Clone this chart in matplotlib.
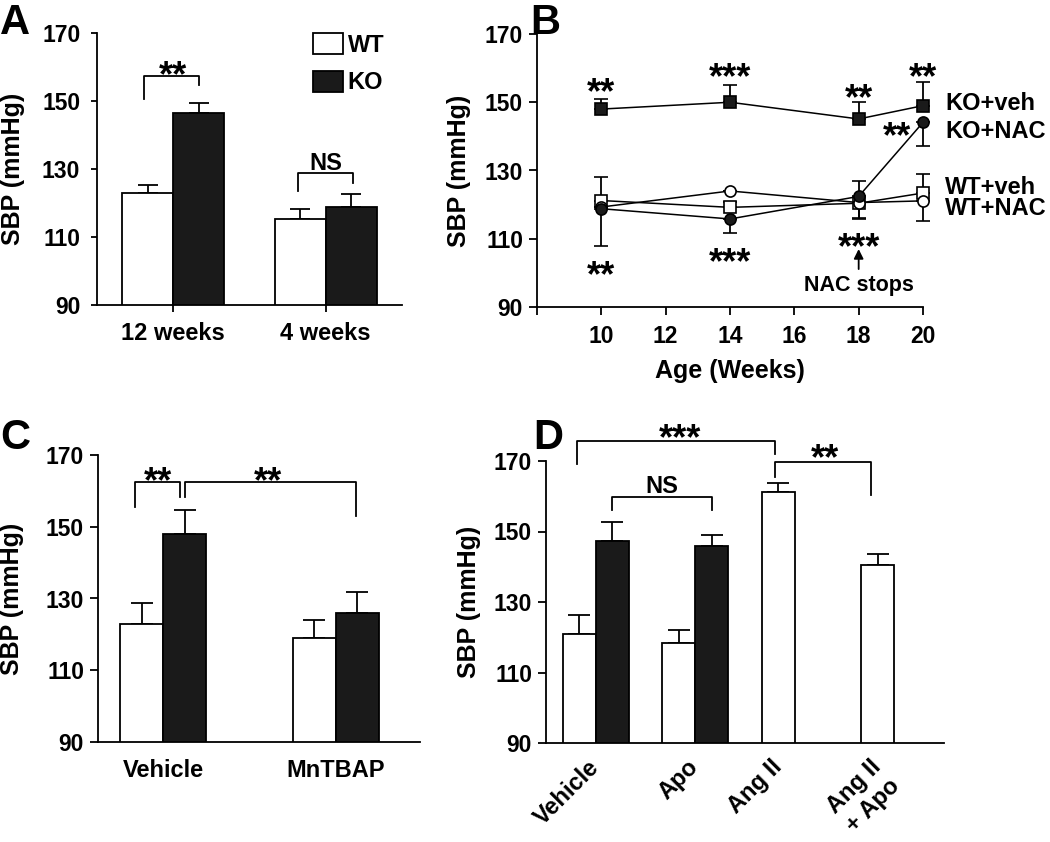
import matplotlib
matplotlib.use("Agg")
import matplotlib.pyplot as plt

plt.rcParams['font.family'] = ['Liberation Sans', 'DejaVu Sans']
plt.rcParams['font.weight'] = 'bold'
plt.rcParams['axes.labelweight'] = 'bold'

W, H = 1050, 842

# ---- dane ----
# panel A
a_groups = ['12 weeks', '4 weeks']
a_wt = [122.8, 115.3]
a_wt_err = [2.5, 2.8]
a_ko = [146.5, 118.7]
a_ko_err = [2.9, 3.8]

# panel B
b_weeks = [10, 14, 18, 20]
b_ko_veh = [148.0, 150.0, 145.1, 149.0]
b_ko_veh_up = [3.0, 5.0, 5.0, 7.0]
b_ko_veh_dn = [0, 0, 0, 0]
b_ko_nac = [118.8, 115.8, 122.4, 144.1]
b_ko_nac_up = [0, 0, 4.6, 0]
b_ko_nac_dn = [10.8, 4.0, 0, 7.0]
b_wt_veh = [121.2, 119.2, 120.4, 123.4]
b_wt_veh_up = [6.8, 1.7, 0, 5.6]
b_wt_veh_dn = [0, 0, 4.5, 0]
b_wt_nac = [119.3, 124.0, 120.6, 121.1]
b_wt_nac_up = [0, 0, 0, 0]
b_wt_nac_dn = [0, 0, 4.4, 6.0]

# panel C
c_groups = ['Vehicle', 'MnTBAP']
c_wt = [122.8, 119.0]
c_wt_err = [6.0, 5.0]
c_ko = [148.0, 126.0]
c_ko_err = [6.8, 5.9]

# panel D
d_pos = [1, 2, 4, 5, 7, 10]
d_vals = [120.9, 147.2, 118.5, 145.8, 161.1, 140.4]
d_err = [5.4, 5.6, 3.6, 3.1, 2.6, 3.2]
d_black = [False, True, False, True, False, False]
d_tick_pos = [1.25, 4.25, 6.75, 9.75]
d_labels = ['Vehicle', 'Apo', 'Ang II', 'Ang II\n+ Apo']

LW = 1.3
TICK_FS = 16.5
LAB_FS = 17
YLAB_FS = 18
STAR_FS = 26
DARK = '#1a1a1a'


def rect(l, t, r, b):
    return [l / W, 1 - b / H, (r - l) / W, (b - t) / H]


def style(ax, ylab_x):
    for s in ['top', 'right']:
        ax.spines[s].set_visible(False)
    for s in ['left', 'bottom']:
        ax.spines[s].set_linewidth(LW)
    ax.tick_params(direction='out', length=6, width=LW, labelsize=TICK_FS, pad=4)
    ax.set_ylim(90, 170)
    ax.set_yticks([90, 110, 130, 150, 170])
    ax.set_ylabel('SBP (mmHg)', fontsize=YLAB_FS)
    ax.yaxis.set_label_coords(ylab_x, 0.5)


def bracket(ax, x1, x2, y, y1, y2):
    ax.plot([x1, x1, x2, x2], [y1, y, y, y2], color='k', lw=LW, clip_on=False)


def stars(ax, x, y, s):
    # y = srodek wizualny gwiazdek
    ax.annotate(s, (x, y), xytext=(0, -0.58 * STAR_FS), textcoords='offset points',
                ha='center', va='baseline', fontsize=STAR_FS, annotation_clip=False)


def bar_err(ax, x, y, err, cap):
    ax.errorbar(x, y, yerr=[[0] * len(err), err], fmt='none', ecolor='k',
                elinewidth=LW, capsize=cap, capthick=LW, zorder=1)


fig = plt.figure(figsize=(W / 100, H / 100), dpi=100)

# ---- A ----
ax = fig.add_axes(rect(97, 33, 402, 305))
style(ax, (25 - 97) / 305)
ax.tick_params(axis='y', length=4, pad=8)
ax.tick_params(axis='x', length=5, pad=7)
w = 0.333
xa = list(range(len(a_groups)))
ax.bar([x - w / 2 for x in xa], a_wt, w, color='white', edgecolor='k', lw=LW, zorder=2, label='WT')
ax.bar([x + w / 2 for x in xa], a_ko, w, color=DARK, edgecolor='k', lw=LW, zorder=2, label='KO')
bar_err(ax, [x - w / 2 for x in xa], a_wt, a_wt_err, 7)
bar_err(ax, [x + w / 2 for x in xa], a_ko, a_ko_err, 7)
ax.set_xlim(-0.5, 1.5)
ax.set_xticks(xa)
ax.set_xticklabels(a_groups, fontsize=LAB_FS)
bracket(ax, -0.19, 0.17, 157.5, 150.7, 154.8)
stars(ax, 0.0, 160.5, '**')
bracket(ax, 1 - 0.18, 1 + 0.18, 128.8, 123.6, 126.0)
ax.text(1.0, 129.8, 'NS', ha='center', va='baseline', fontsize=LAB_FS)
ax.legend(loc='upper left', bbox_to_anchor=(0.708, 1.0), frameon=False, fontsize=LAB_FS,
          handlelength=1.27, handleheight=1.0, labelspacing=0.6, handletextpad=0.2,
          borderpad=0, borderaxespad=0)

# ---- B ----
ax = fig.add_axes(rect(537, 34, 923, 307))
style(ax, (471 - 537) / 386)
ax.set_xlim(8, 20)
ax.set_xticks(range(8, 21, 2))
ax.set_xticklabels([''] + [str(v) for v in range(10, 21, 2)])
ax.tick_params(axis='x', pad=7)
ax.set_xlabel('Age (Weeks)', fontsize=LAB_FS + 1, labelpad=8)
series = [
    (b_wt_veh, b_wt_veh_dn, b_wt_veh_up, 's', 'white'),
    (b_wt_nac, b_wt_nac_dn, b_wt_nac_up, 'o', 'white'),
    (b_ko_veh, b_ko_veh_dn, b_ko_veh_up, 's', DARK),
    (b_ko_nac, b_ko_nac_dn, b_ko_nac_up, 'o', DARK),
]
for vals, dn, up, m, fc in series:
    ax.errorbar(b_weeks, vals, yerr=[dn, up], fmt='-', marker=m, color='k', mfc=fc, mec='k',
                ms=8, mew=1.2, lw=1.1, elinewidth=LW, capsize=5, capthick=LW, clip_on=False)
for x, y, s in [(10, 155.9, '**'), (14, 160.3, '***'), (18, 154.2, '**'), (20, 160.3, '**'),
                (19.2, 143.0, '**'), (10, 102.3, '**'), (14, 106.1, '***'), (18, 110.5, '***')]:
    stars(ax, x, y, s)
ax.annotate('', xy=(18, 107.8), xytext=(18, 100.3),
            arrowprops=dict(arrowstyle='-|>', color='k', lw=1.3, mutation_scale=14))
ax.text(18, 96.4, 'NAC stops', ha='center', va='center', fontsize=15.5)
for y, s in [(149.5, 'KO+veh'), (141.3, 'KO+NAC'), (124.9, 'WT+veh'), (119.0, 'WT+NAC')]:
    ax.text(20.69, y, s, ha='left', va='center', fontsize=LAB_FS, clip_on=False)

# ---- C ----
ax = fig.add_axes(rect(98, 455, 420, 742))
style(ax, (24 - 98) / 322)
w = 0.25
xc = list(range(len(c_groups)))
ax.bar([x - w / 2 for x in xc], c_wt, w, color='white', edgecolor='k', lw=LW, zorder=2)
ax.bar([x + w / 2 for x in xc], c_ko, w, color=DARK, edgecolor='k', lw=LW, zorder=2)
bar_err(ax, [x - w / 2 for x in xc], c_wt, c_wt_err, 8)
bar_err(ax, [x + w / 2 for x in xc], c_ko, c_ko_err, 8)
ax.set_xlim(-0.38, 1.49)
ax.set_xticks(xc)
ax.set_xticklabels(c_groups, fontsize=LAB_FS)
ax.tick_params(axis='x', length=0, pad=12)
bracket(ax, -0.163, 0.099, 162.4, 155.4, 158.4)
bracket(ax, 0.128, 1.116, 162.4, 158.4, 153.0)
stars(ax, -0.03, 165.5, '**')
stars(ax, 0.61, 165.5, '**')

# ---- D ----
ax = fig.add_axes(rect(546, 461, 944, 743))
style(ax, (481 - 546) / 398)
ax.bar(d_pos, d_vals, 1.0, color=[DARK if b else 'white' for b in d_black],
       edgecolor='k', lw=LW, zorder=2)
bar_err(ax, d_pos, d_vals, d_err, 8)
ax.set_xlim(0, 12)
ax.set_xticks(d_tick_pos)
ax.set_xticklabels(d_labels, rotation=45, ha='right', va='top', rotation_mode='anchor',
                   fontsize=LAB_FS)
ax.tick_params(axis='x', length=0, pad=9)
bracket(ax, 0.93, 6.89, 175.8, 169.2, 172.1)
stars(ax, 4.03, 179.2, '***')
bracket(ax, 6.89, 9.81, 169.7, 165.5, 160.3)
stars(ax, 8.4, 173.5, '**')
bracket(ax, 2.0, 4.99, 159.8, 156.2, 156.2)
ax.text(3.49, 160.9, 'NS', ha='center', va='baseline', fontsize=LAB_FS)

# litery paneli
for x, y, s in [(0, 3, 'A'), (530, 3, 'B'), (0, 418, 'C'), (533, 418, 'D')]:
    fig.text(x / W, 1 - y / H, s, ha='left', va='top', fontsize=30, fontweight='bold')

fig.savefig('out.png', dpi=100)
